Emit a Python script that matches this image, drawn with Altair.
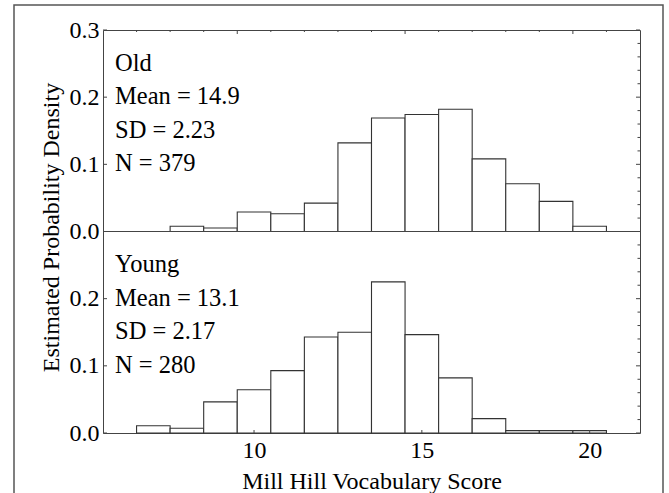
import altair as alt
import pandas as pd

# ---- data ----
scores = [7, 8, 9, 10, 11, 12, 13, 14, 15, 16, 17, 18, 19, 20]
old_density = [0.0, 0.0079, 0.0053, 0.029, 0.0264, 0.0422, 0.1319, 0.1689, 0.1741,
               0.1821, 0.1082, 0.0712, 0.0449, 0.0079]
young_density = [0.0107, 0.0071, 0.0464, 0.0643, 0.0929, 0.1429, 0.15, 0.225, 0.1464,
                 0.0821, 0.0214, 0.0036, 0.0036, 0.0036]
old_text = ["Old", "Mean = 14.9", "SD = 2.23", "N = 379"]
young_text = ["Young", "Mean = 13.1", "SD = 2.17", "N = 280"]

y_label_values = [0.0, 0.1, 0.2, 0.3, 0.4, 0.5, 0.6]
x_label_values = [10, 15, 20]
top_minor = [6.5, 7.5, 8.5, 10.5, 11.5, 12.5, 13.5, 15.5, 16.5, 17.5, 18.5, 20.5]
top_major = [9.5, 14.5, 19.5]
right_minor = [round(i * 0.02, 2) for i in range(31) if i % 5 != 0]
right_major = [0.0, 0.1, 0.2, 0.3, 0.4, 0.5, 0.6]

FONT = "Liberation Serif"
W, H = 537, 403
EDGE = "#444444"

bars = pd.DataFrame({
    "panel": ["Old"] * len(scores) + ["Young"] * len(scores),
    "score": scores + scores,
    "density": old_density + young_density,
})
ann = pd.DataFrame({
    "panel": ["Old"] * 4 + ["Young"] * 4,
    "row": [0, 1, 2, 3] * 2,
    "text": old_text + young_text,
})

xs = alt.Scale(domain=[5.5, 21.5], nice=False, zero=False)
ys = alt.Scale(domain=[0, 0.6], nice=False, zero=False)

bar_layer = alt.Chart(bars).transform_calculate(
    base="datum.panel == 'Old' ? 0.3 : 0",
    top="(datum.panel == 'Old' ? 0.3 : 0) + datum.density",
    x0="datum.score - 0.5",
    x1="datum.score + 0.5",
).mark_rect(fill="white", stroke="#333333", strokeWidth=1.1).encode(
    x=alt.X("x0:Q", scale=xs, axis=alt.Axis(
        orient="bottom",
        values=x_label_values, title="Mill Hill Vocabulary Score", ticks=False, domain=False,
        grid=False, labelFont=FONT, labelFontSize=24, labelColor="black", labelPadding=5,
        labelFlush=False, titleFont=FONT, titleFontSize=24, titleFontWeight="normal",
        titleColor="black", titleBaseline="alphabetic", titleY=55, format="d")),
    x2="x1:Q",
    y=alt.Y("top:Q", scale=ys, axis=alt.Axis(
        orient="left",
        values=y_label_values, title="Estimated Probability Density", ticks=False, domain=False,
        grid=False, labelFont=FONT, labelFontSize=24, labelColor="black", labelPadding=4,
        labelFlush=False, labelOverlap=False,
        labelExpr="datum.value >= 0.3 ? format(datum.value - 0.3, '.1f') : format(datum.value, '.1f')",
        titleFont=FONT, titleFontSize=24, titleFontWeight="normal", titleColor="black",
        titleAngle=270, titleX=-52, titleY=197, titleAlign="center", titleBaseline="middle")),
    y2="base:Q",
)


def hrule(values, x_from, x_to):
    return alt.Chart(pd.DataFrame({"v": values})).mark_rule(color=EDGE, strokeWidth=1).encode(
        y=alt.Y("v:Q", scale=ys, axis=None), x=alt.value(x_from), x2=alt.value(x_to))


def vrule(values, y_from, y_to):
    return alt.Chart(pd.DataFrame({"v": values})).mark_rule(color=EDGE, strokeWidth=1).encode(
        x=alt.X("v:Q", scale=xs, axis=None), y=alt.value(y_from), y2=alt.value(y_to))


mid_rule = hrule([0.3], 0, W)
left_ticks = hrule(y_label_values, 0, 4)
right_major_ticks = hrule(right_major, W - 4, W)
right_minor_ticks = hrule(right_minor, W - 2.5, W)
top_major_ticks = vrule(top_major, 0, 4)
top_minor_ticks = vrule(top_minor, 0, 2)
bottom_ticks = vrule(x_label_values, H - 3, H)

text_layer = alt.Chart(ann).transform_calculate(
    ypos="(datum.panel == 'Old' ? 0.3 : 0) + 0.25 - 0.05 * datum.row"
).mark_text(align="left", baseline="middle", font=FONT, fontSize=24.5, color="black").encode(
    y=alt.Y("ypos:Q", scale=ys, axis=None), x=alt.value(12), text="text:N")

outer = alt.Chart(pd.DataFrame({"a": [0]})).mark_rect(
    fill="transparent", stroke="#555555", strokeWidth=1.5).encode(
    x=alt.value(-89), x2=alt.value(560), y=alt.value(-25), y2=alt.value(490))

chart = alt.layer(
    outer, bar_layer, mid_rule, left_ticks, right_major_ticks, right_minor_ticks,
    top_major_ticks, top_minor_ticks, bottom_ticks, text_layer
).resolve_axis(x="independent", y="independent").properties(
    width=W, height=H,
    autosize=alt.AutoSizeParams(type="none"),
    padding={"left": 103, "top": 30, "right": 29, "bottom": 60},
    background="white",
).configure_view(stroke=EDGE, strokeWidth=1)

chart.save("out.html", embed_options={"renderer": "svg", "actions": False})
